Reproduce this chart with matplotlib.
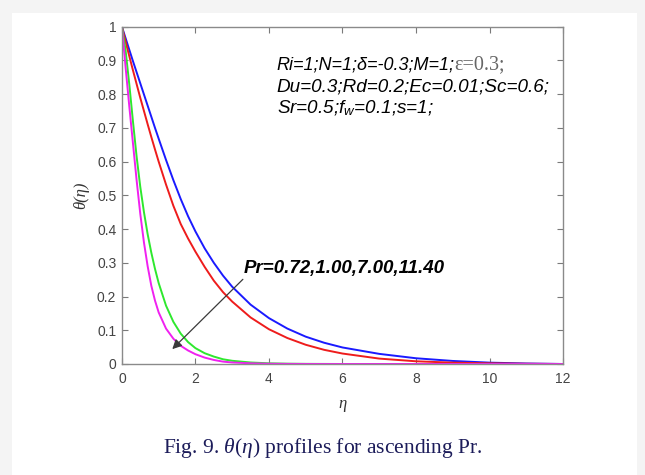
import matplotlib
matplotlib.use("Agg")
import matplotlib.pyplot as plt
from matplotlib.patches import Rectangle

plt.rcParams['mathtext.fontset'] = 'custom'
plt.rcParams['mathtext.it'] = 'Liberation Serif:italic'
plt.rcParams['mathtext.rm'] = 'Liberation Serif'
plt.rcParams['mathtext.sf'] = 'Liberation Sans:italic'

# similarity coordinate
eta = [0, 0.1, 0.2, 0.3, 0.4, 0.5, 0.6, 0.7, 0.8, 0.9, 1.0, 1.2, 1.4, 1.6, 1.8, 2.0,
       2.25, 2.5, 2.75, 3.0, 3.5, 4.0, 4.5, 5.0, 5.5, 6.0, 7.0, 8.0, 9.0, 10.0, 11.0, 12.0]

# temperature profiles theta(eta) for each Prandtl number
theta_pr072 = [1, 0.966, 0.932, 0.898, 0.865, 0.832, 0.799, 0.766, 0.733, 0.700, 0.668, 0.605,
               0.545, 0.489, 0.438, 0.393, 0.343, 0.300, 0.262, 0.229, 0.176, 0.136, 0.105,
               0.081, 0.063, 0.049, 0.030, 0.017, 0.009, 0.004, 0.0015, 0]
theta_pr100 = [1, 0.956, 0.913, 0.871, 0.83, 0.789, 0.75, 0.711, 0.673, 0.636, 0.600, 0.532,
               0.469, 0.415, 0.372, 0.333, 0.288, 0.247, 0.213, 0.185, 0.138, 0.103, 0.077,
               0.057, 0.042, 0.031, 0.016, 0.008, 0.004, 0.002, 0.0007, 0]
theta_pr700 = [1, 0.93, 0.83, 0.72, 0.615, 0.525, 0.45, 0.385, 0.33, 0.282, 0.24, 0.173,
               0.125, 0.09, 0.065, 0.047, 0.032, 0.022, 0.014, 0.0095, 0.0045, 0.002, 0.0009,
               0.0004, 0.0002, 0, 0, 0, 0, 0, 0, 0]
theta_pr1140 = [1, 0.88, 0.765, 0.655, 0.545, 0.445, 0.36, 0.29, 0.232, 0.188, 0.153, 0.105,
                0.075, 0.054, 0.04, 0.029, 0.019, 0.012, 0.007, 0.0045, 0.002, 0.0008, 0.0003,
                0.0001, 0, 0, 0, 0, 0, 0, 0, 0]

xticks = [0, 2, 4, 6, 8, 10, 12]
yticks = [0, 0.1, 0.2, 0.3, 0.4, 0.5, 0.6, 0.7, 0.8, 0.9, 1]
ytick_labels = ['0', '0.1', '0.2', '0.3', '0.4', '0.5', '0.6', '0.7', '0.8', '0.9', '1']

fig = plt.figure(figsize=(6.45, 4.75), dpi=100)
fig.patch.set_facecolor('#f4f4f4')
fig.add_artist(Rectangle((12 / 645, 0), 625 / 645, 462 / 475, transform=fig.transFigure,
                         facecolor='white', edgecolor='none', zorder=-10))

ax = fig.add_axes([0.189, 0.2337, 0.684, 0.7101])
ax.set_facecolor('white')

ax.plot(eta, theta_pr072, color='#1a1aff', lw=1.4)
ax.plot(eta, theta_pr100, color='#ee1c1c', lw=1.4)
ax.plot(eta, theta_pr700, color='#2ee82e', lw=1.4)
ax.plot(eta, theta_pr1140, color='#f020f0', lw=1.4)

ax.set_xlim(0, 12)
ax.set_ylim(0, 1)
ax.set_xticks(xticks)
ax.set_xticklabels([str(t) for t in xticks])
ax.set_yticks(yticks)
ax.set_yticklabels(ytick_labels)
ax.tick_params(direction='in', top=True, right=True, length=4.5, width=0.8,
               color='#7a7a7a', labelcolor='#444444', labelsize=10)
ax.tick_params(axis='x', pad=6)
ax.tick_params(axis='y', pad=4)
for s in ax.spines.values():
    s.set_color('#8a8a8a')
    s.set_linewidth(1.0)
for lab in ax.get_xticklabels() + ax.get_yticklabels():
    lab.set_family('Liberation Sans')

ax.set_xlabel('η', family='Liberation Serif', style='italic', fontsize=12, color='#333333')
ax.xaxis.set_label_coords(0.5, -0.095)
ax.set_ylabel('θ(η)', family='Liberation Serif', style='italic', fontsize=12, color='#333333')
ax.yaxis.set_label_coords(-0.074, 0.5)

# parameter block
t1 = ax.text(4.21, 0.886, 'Ri=1;N=1;δ=-0.3;M=1;', family='Liberation Sans', style='italic',
             fontsize=13, va='center', ha='left')
ax.annotate('ε=0.3;', xy=(1, 0.5), xycoords=t1, va='center', ha='left',
            family='Liberation Serif', fontsize=14.5, color='#666666')
ax.text(4.21, 0.822, 'Du=0.3;Rd=0.2;Ec=0.01;Sc=0.6;', family='Liberation Sans', style='italic',
        fontsize=13.6, va='center', ha='left')
ax.text(4.21, 0.759, r'Sr=0.5;$\mathsf{f}_{\mathsf{w}}$=0.1;s=1;', family='Liberation Sans',
        style='italic', fontsize=13.6, va='center', ha='left')

ax.text(3.3, 0.284, 'Pr=0.72,1.00,7.00,11.40', family='Liberation Sans', style='italic',
        weight='bold', fontsize=13.5, va='center', ha='left')
ax.annotate('', xy=(1.37, 0.044), xytext=(3.29, 0.251),
            arrowprops=dict(arrowstyle='-|>', color='#3a3a3a', lw=0.9, mutation_scale=14,
                            shrinkA=0, shrinkB=0))

fig.text(323 / 645, 1 - 448 / 475, r'Fig. 9. $\theta(\eta)$ profiles for ascending Pr.',
         family='Liberation Serif', fontsize=15.5, color='#1c1c5a', ha='center', va='center')

fig.savefig('out.png', dpi=100, facecolor=fig.get_facecolor())
